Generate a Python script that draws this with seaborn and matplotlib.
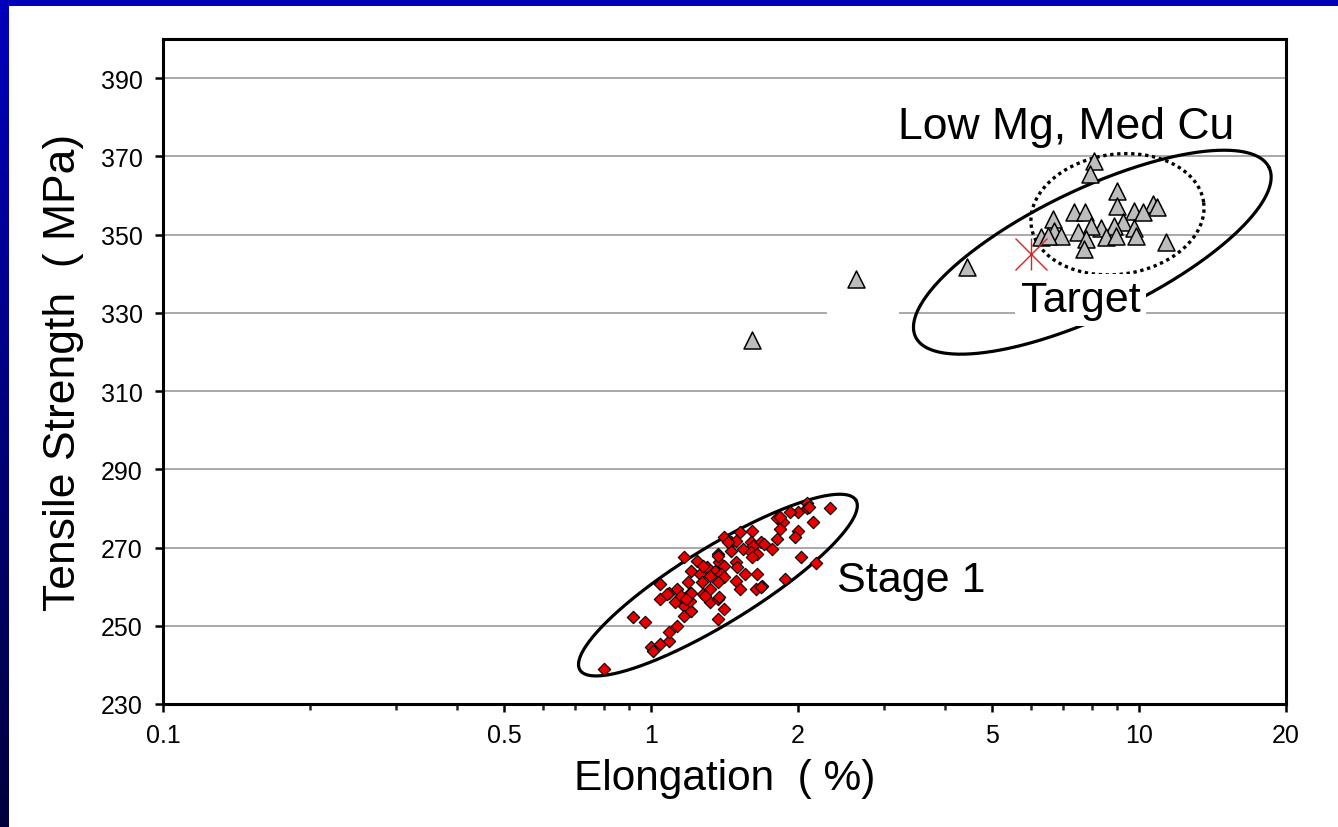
import numpy as np
import pandas as pd
import matplotlib
matplotlib.use("Agg")
import matplotlib.pyplot as plt
from matplotlib.patches import Rectangle
from matplotlib.ticker import FixedLocator, NullFormatter, FixedFormatter
import seaborn as sns

# ---- data -------------------------------------------------------------
stage1_elong = [0.80, 0.92, 0.97, 1.00, 1.01, 1.045, 1.09, 1.09, 1.13, 1.045,
                1.045, 1.09, 1.13, 1.12, 1.17, 1.17, 1.21, 1.20, 1.20, 1.28,
                1.32, 1.37, 1.41, 1.37, 1.49, 1.52, 2.09, 2.09, 2.33, 2.00,
                1.93, 1.81, 1.86, 2.15, 1.84, 2.00, 1.61, 1.52, 1.41, 1.81,
                1.97, 1.46, 1.49, 1.60, 1.68, 1.62, 1.77, 1.54, 1.60, 1.46,
                1.65, 2.03, 2.18, 1.61, 1.17, 1.24, 1.37, 1.38, 1.49, 1.41,
                1.50, 1.30, 1.35, 1.21, 1.26, 1.32, 1.39, 1.56, 1.65, 1.41,
                1.88, 1.19, 1.27, 1.37, 1.69, 1.64, 1.32, 1.21, 1.08, 1.15,
                1.38, 1.18, 1.29, 1.28, 1.37, 1.44, 1.70, 1.84, 2.11, 1.68]
stage1_ts = [239.0, 252.2, 250.9, 244.5, 243.6, 245.3, 246.2, 248.5, 250.0, 260.7,
             256.8, 258.5, 259.4, 256.0, 255.1, 252.6, 253.8, 258.5, 256.4, 258.1,
             256.0, 256.8, 254.3, 251.7, 261.5, 259.4, 281.5, 280.1, 280.1, 279.0,
             279.0, 277.5, 276.4, 276.4, 274.7, 274.3, 274.3, 273.9, 272.8, 272.2,
             272.6, 271.3, 271.7, 271.3, 271.3, 270.5, 269.6, 269.6, 268.8, 269.2,
             268.3, 267.5, 266.0, 267.5, 267.5, 266.6, 268.3, 266.2, 266.2, 265.3,
             264.9, 264.9, 264.1, 264.1, 263.2, 262.8, 263.2, 263.2, 263.2, 262.4,
             261.9, 261.1, 261.1, 261.1, 260.2, 259.4, 259.4, 258.5, 258.1, 257.7,
             257.3, 256.8, 257.7, 265.3, 267.9, 271.3, 270.9, 277.7, 280.3, 259.8]

lowmg_elong = [1.61, 2.63, 4.45, 8.07, 7.94, 9.03, 9.03, 10.66, 10.88, 9.77,
               10.17, 7.36, 7.74, 6.65, 9.25, 8.89, 8.35, 7.96, 9.77, 6.70,
               7.48, 6.92, 6.29, 6.50, 8.55, 8.96, 9.85, 7.78, 11.35, 7.71]
lowmg_ts = [323.0, 338.6, 341.6, 368.9, 365.5, 361.2, 357.4, 357.8, 357.0, 356.1,
            355.7, 355.7, 355.8, 354.0, 353.1, 352.3, 351.8, 352.3, 351.8, 351.0,
            350.6, 349.6, 349.3, 349.6, 349.3, 349.6, 349.6, 348.9, 348.2, 346.3]

target_elong = [6.0]
target_ts = [345.0]

x_ticks = [0.1, 0.5, 1, 2, 5, 10, 20]
x_tick_labels = ["0.1", "0.5", "1", "2", "5", "10", "20"]
x_minor = [0.2, 0.3, 0.4, 0.6, 0.7, 0.8, 0.9, 3, 4, 6, 7, 8, 9]
y_ticks = [230, 250, 270, 290, 310, 330, 350, 370, 390]

stage1 = pd.DataFrame({"Elongation": stage1_elong, "Tensile": stage1_ts})
lowmg = pd.DataFrame({"Elongation": lowmg_elong, "Tensile": lowmg_ts})
target = pd.DataFrame({"Elongation": target_elong, "Tensile": target_ts})

# ---- style ------------------------------------------------------------
sns.set_style("white")
plt.rcParams["font.family"] = ["Liberation Sans", "DejaVu Sans"]
plt.rcParams["text.color"] = "black"
plt.rcParams["axes.labelcolor"] = "black"

W, H = 1338, 828
fig = plt.figure(figsize=(W / 100, H / 100), dpi=100, facecolor="white")

# slide frame: blue band on top, dark gradient band on the left
fig.add_artist(Rectangle((0, 1 - 7 / H), 1, 7 / H, transform=fig.transFigure,
                         facecolor="#0000b8", edgecolor="none", zorder=10))
band = fig.add_axes([0, 0, 9 / W, 1 - 7 / H])
grad = np.linspace(0, 1, 256)[:, None]
top_c = np.array([0.0, 0.0, 0.74])
bot_c = np.array([0.0, 0.0, 0.24])
img = (top_c[None, None, :] * (1 - grad[:, :, None]) + bot_c[None, None, :] * grad[:, :, None])
band.imshow(img, aspect="auto", extent=[0, 1, 0, 1])
band.set_axis_off()

ax = fig.add_axes([163 / W, 1 - 705 / H, (1286 - 163) / W, (705 - 40) / H])
ax.set_xscale("log")
ax.set_xlim(0.1, 20)
ax.set_ylim(230, 400)

# grid on the strength axis only
ax.yaxis.set_major_locator(FixedLocator(y_ticks))
ax.grid(axis="y", color="#929292", linewidth=1.1)
ax.grid(axis="x", visible=False)
ax.set_axisbelow(True)

ax.xaxis.set_major_locator(FixedLocator(x_ticks))
ax.xaxis.set_major_formatter(FixedFormatter(x_tick_labels))
ax.xaxis.set_minor_locator(FixedLocator(x_minor))
ax.xaxis.set_minor_formatter(NullFormatter())

for s in ax.spines.values():
    s.set_visible(True)
    s.set_color("black")
    s.set_linewidth(2.2)

ax.tick_params(axis="both", which="major", direction="out", length=5.5, width=1.8,
               labelsize=18, colors="black", bottom=True, left=True)
ax.tick_params(axis="x", which="major", pad=8)
ax.tick_params(axis="y", which="major", pad=9)
ax.tick_params(axis="x", which="minor", direction="out", length=4.3, width=1.8, bottom=True)

# blank patch over the grid between the two clusters
ax.add_patch(Rectangle((2.29, 312), 3.22 - 2.29, 24, facecolor="white",
                       edgecolor="none", zorder=1))


def ellipse_points(center, a_px, b_px, angle_deg, n=500):
    """Ellipse defined in screen pixels around a data-space centre."""
    cx, cy = ax.transData.transform(center)
    t = np.linspace(0, 2 * np.pi, n)
    th = np.deg2rad(angle_deg)
    ex, ey = a_px * np.cos(t), b_px * np.sin(t)
    px = cx + ex * np.cos(th) - ey * np.sin(th)
    py = cy + ex * np.sin(th) + ey * np.cos(th)
    pts = ax.transData.inverted().transform(np.column_stack([px, py]))
    return pts[:, 0], pts[:, 1]


ex, ey = ellipse_points((1.371, 260.4), 162, 38, 31.6)
ax.plot(ex, ey, color="black", lw=2.3, zorder=3)
ex, ey = ellipse_points((8.02, 345.5), 196, 63, 25.6)
ax.plot(ex, ey, color="black", lw=2.3, zorder=3)
ex, ey = ellipse_points((9.03, 355.2), 87, 60, 8)
ax.plot(ex, ey, color="black", lw=2.4, linestyle=(0, (1, 1.1)),
        dash_capstyle="butt", zorder=3)

# data markers
sns.scatterplot(data=stage1, x="Elongation", y="Tensile", marker="D", s=40,
                color="#e80000", edgecolor="black", linewidth=0.8, ax=ax,
                zorder=5, legend=False)
sns.scatterplot(data=lowmg, x="Elongation", y="Tensile", marker="^", s=150,
                color="#bdbdbd", edgecolor="black", linewidth=1.1, ax=ax,
                zorder=5, legend=False)
sns.scatterplot(data=target, x="Elongation", y="Tensile", marker="x", s=530,
                color="#e02020", linewidth=1.0, ax=ax, zorder=6, legend=False)
sns.scatterplot(data=target, x="Elongation", y="Tensile", marker="|", s=530,
                color="#e02020", linewidth=1.0, ax=ax, zorder=6, legend=False)

ax.set_xlabel("Elongation  ( %)", fontsize=30.5, labelpad=8, color="black")
ax.set_ylabel("Tensile Strength  ( MPa)", fontsize=32, labelpad=12, color="black")

ax.text(7.08, 377.7, "Low Mg, Med Cu", fontsize=32, ha="center", va="center",
        color="black", zorder=7)
ax.text(7.6, 333.3, "Target", fontsize=31, ha="center", va="center", color="black",
        zorder=4, bbox=dict(facecolor="white", edgecolor="none", pad=4))
ax.text(3.42, 261.7, "Stage 1", fontsize=31, ha="center", va="center",
        color="black", zorder=7)

fig.savefig("out.png", dpi=100, facecolor="white")
